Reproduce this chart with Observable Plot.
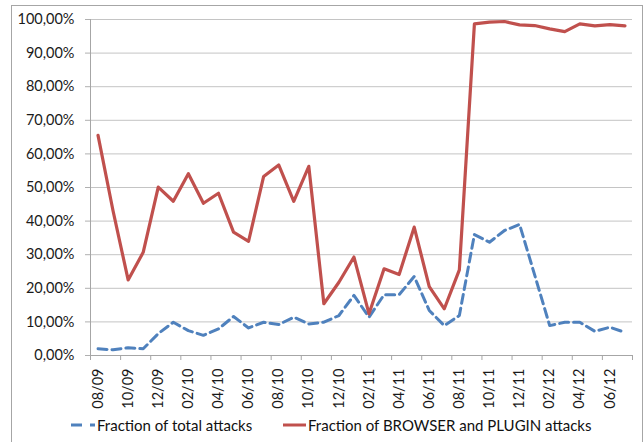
<!DOCTYPE html>
<html>
<head>
<meta charset="utf-8">
<script src="https://cdn.jsdelivr.net/npm/d3@7"></script>
<script src="https://cdn.jsdelivr.net/npm/@observablehq/plot@0.6"></script>
<style>
  html, body { margin: 0; padding: 0; background: #fff; }
  #wrap { position: relative; width: 644px; height: 442px; overflow: hidden; font-family: Lato, "Liberation Sans", Arial, sans-serif; }
  #border { position: absolute; left: 11px; top: 5px; width: 630px; height: 450px; border: 1px solid #a6a6a6; border-bottom: none; }
  #chart { position: absolute; left: 0; top: 0; }
  #legend { position: absolute; left: 0; top: 414px; width: 644px; height: 24px; font-size: 15px; color: #111; }
  .item { position: absolute; top: 0; display: flex; align-items: center; height: 22px; white-space: nowrap; }
  .item svg { display: block; margin-right: 2px; }
</style>
</head>
<body>
<div id="wrap">
  <div id="border"></div>
  <div id="chart"></div>
  <div id="legend"></div>
</div>
<script>
// Month categories (MM/YY)
const months = ["08/09","09/09","10/09","11/09","12/09","01/10","02/10","03/10","04/10","05/10","06/10","07/10",
                "08/10","09/10","10/10","11/10","12/10","01/11","02/11","03/11","04/11","05/11","06/11","07/11",
                "08/11","09/11","10/11","11/11","12/11","01/12","02/12","03/12","04/12","05/12","06/12","07/12"];

// Fraction of total attacks (%)
const totalFraction = [2.0, 1.7, 2.3, 2.0, 6.5, 9.9, 7.4, 6.0, 7.9, 11.6, 8.2, 9.9,
                       9.2, 11.4, 9.4, 9.9, 11.9, 17.9, 11.4, 18.1, 18.1, 23.5, 13.4, 8.9,
                       11.9, 36.0, 33.7, 37.2, 39.0, 24.0, 8.9, 9.9, 9.9, 7.2, 8.4, 6.9];

// Fraction of BROWSER and PLUGIN attacks (%)
const browserPluginFraction = [65.5, 43.0, 22.5, 30.7, 50.1, 45.9, 54.1, 45.3, 48.3, 36.7, 34.0, 53.3,
                               56.7, 45.9, 56.3, 15.4, 21.8, 29.3, 12.4, 25.8, 24.1, 38.2, 20.5, 13.9,
                               25.5, 98.7, 99.2, 99.4, 98.4, 98.2, 97.2, 96.4, 98.7, 98.1, 98.5, 98.1];

// Y tick values (%)
const yTicks = [0, 10, 20, 30, 40, 50, 60, 70, 80, 90, 100];

const seriesNames = ["Fraction of total attacks", "Fraction of BROWSER and PLUGIN attacks"];
const colors = ["#4F81BD", "#C0504D"];

const totalData = totalFraction.map((v, i) => ({i, v}));
const bpData = browserPluginFraction.map((v, i) => ({i, v}));

const n = months.length;
const labelIdx = d3.range(0, n, 2);
const boundaryTicks = d3.range(-0.5, n, 2).concat([n - 0.5]);

const fmt = d => d.toFixed(2).replace(".", ",") + "%";

const chart = Plot.plot({
  width: 644,
  height: 410,
  marginLeft: 90,
  marginRight: 12,
  marginTop: 19,
  marginBottom: 55,
  style: { fontFamily: "Lato, Liberation Sans, Arial, sans-serif", fontSize: "14px", color: "#1a1a1a", background: "transparent" },
  x: { type: "linear", domain: [-0.5, n - 0.5] },
  y: { domain: [0, 100] },
  marks: [
    Plot.gridY(yTicks.slice(1), { stroke: "#c4c4c4", strokeOpacity: 1 }),
    Plot.axisY(yTicks, { tickSize: 5, tickPadding: 11, tickFormat: fmt, stroke: "#b0b0b0", strokeOpacity: 1, fill: "#1a1a1a", label: null, fontSize: 14.5 }),
    Plot.frame({ anchor: "left", stroke: "#a6a6a6" }),
    Plot.frame({ anchor: "bottom", stroke: "#a6a6a6" }),
    Plot.axisX(boundaryTicks, { tickSize: 5, tickFormat: () => "", stroke: "#a6a6a6", strokeOpacity: 1, label: null }),
    Plot.axisX(labelIdx, { tickSize: 0, tickPadding: 13, tickRotate: -90, tickFormat: i => months[i], fill: "#1a1a1a", label: null, fontSize: 14.5 }),
    Plot.line(totalData, { x: "i", y: "v", stroke: colors[0], strokeWidth: 3, strokeDasharray: "9,5", strokeLinejoin: "round" }),
    Plot.line(bpData, { x: "i", y: "v", stroke: colors[1], strokeWidth: 3.2, strokeLinejoin: "round" })
  ]
});
document.getElementById("chart").appendChild(chart);

// Legend
const legend = document.getElementById("legend");
const items = [
  { left: 71, name: seriesNames[0], color: colors[0], dash: "11,8" },
  { left: 283, name: seriesNames[1], color: colors[1], dash: null }
];
items.forEach(it => {
  const div = document.createElement("div");
  div.className = "item";
  div.style.left = it.left + "px";
  const w = it.dash ? 24 : 23;
  div.innerHTML = `<svg width="${w}" height="6"><line x1="0" y1="3" x2="${w}" y2="3" stroke="${it.color}" stroke-width="3" ${it.dash ? `stroke-dasharray="${it.dash}"` : ""}/></svg><span>${it.name}</span>`;
  legend.appendChild(div);
});
</script>
</body>
</html>
